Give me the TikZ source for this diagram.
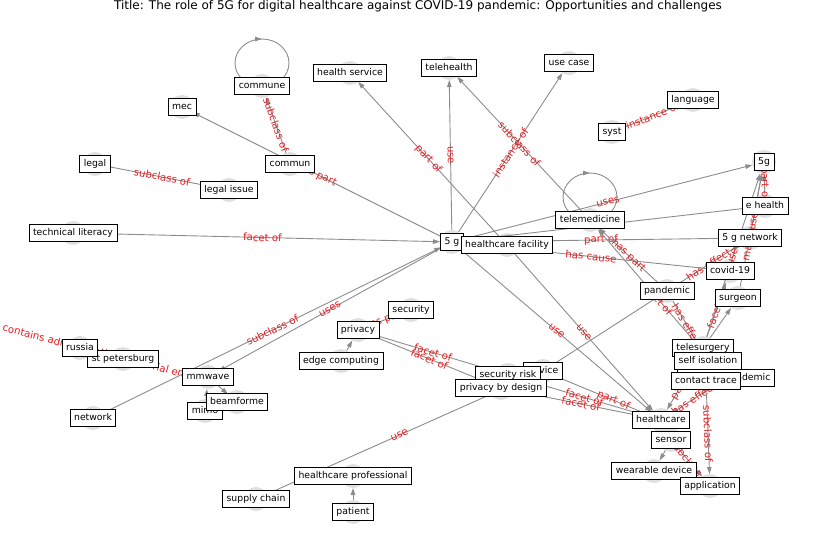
\documentclass[tikz,border=0pt]{standalone}
\usepackage{fontspec}
\setmainfont{DejaVu Sans}
\usetikzlibrary{arrows.meta,decorations.markings}
\definecolor{relred}{RGB}{232,28,32}
\definecolor{linegray}{RGB}{140,140,140}
\tikzset{
  dot/.style={circle, fill=black!12, draw=none, minimum size=24pt, inner sep=0pt, outer sep=0pt},
  lbl/.style={draw=black, fill=white, line width=0.8pt, inner xsep=4pt, inner ysep=4pt,
    text height=7pt, text depth=2pt, font=\fontsize{9.3}{10}\selectfont},
  plain/.style={draw=linegray, line width=0.9pt},
  edge/.style={plain, -{Triangle[length=7pt,width=4.5pt]}},
  rel/.style={sloped, text=relred, inner sep=0pt, font=\fontsize{10.2}{11}\selectfont},
  selfloop/.style={plain, postaction={decorate}, decoration={markings,
    mark=at position 0.25 with {\arrowreversed[linegray]{Triangle[length=7pt,width=4.5pt]}}}}
}
% id / x / y / text
\def\nodelist{commune/262/86/commune, mec/182/107/mec, healthsvc/350/73/health service,
  telehealth/449/68/telehealth, usecase/569/63/use case, language/693/100/language,
  syst/612/132/syst, legal/95/164/legal, legalissue/229/190/legal issue,
  commun/290/164/commun, g5/764/162/5g, ehealth/765/206/e health,
  telemed/590/220/telemedicine, techlit/73/233/technical literacy, fiveg/452/242/5 g,
  hcfac/507/245/healthcare facility, gnet/750/238/5 g network, covid/730/271/covid-19,
  pandemic/667/291/pandemic, surgeon/738/298/surgeon, security/411/310/security,
  privacy/358/330/privacy, stpete/123/359/st petersburg, russia/80/348/russia,
  edgecomp/341/361/edge computing, telesurg/703/348/telesurgery,
  selfiso/708/361/self isolation, covpan/726/378/covid-19 pandemic,
  contact/706/381/contact trace, mmwave/208/377/mmwave, device/543/371/device,
  secrisk/508/375/security risk, pbd/501/388/privacy by design, mimo/205/411/mimo,
  beam/237/402/beamforme, network/93/418/network, healthcare/661/420/healthcare,
  sensor/671/440/sensor, wearable/654/471/wearable device, application/710/486/application,
  hcpro/353/476/healthcare professional, supply/256/499/supply chain, patient/353/512/patient}

\begin{document}
\begin{tikzpicture}[x=1pt, y=-1pt]
  \useasboundingbox (0,0) rectangle (837,559);

  \node[font=\fontsize{12}{14}\selectfont] (title) at (418,6)
    {Title: The role of 5G for digital healthcare against COVID-19 pandemic: Opportunities and challenges};

  \foreach \n/\x/\y/\t in \nodelist
    \node[dot] (\n) at (\x,\y) {};

  \draw[selfloop] ([yshift=23pt]commune.center) circle[x radius=27pt, y radius=24pt];
  \draw[selfloop] ([yshift=23pt]telemed.center) circle[x radius=27pt, y radius=24pt];

  \draw[edge] (commun) -- node[rel] {subclass of} (commune);
  \draw[edge] (fiveg) -- node[rel] {has part} (mec);
  \draw[edge] (legal) -- node[rel] {subclass of} (legalissue);
  \draw[edge] (hcfac) -- node[rel] {part of} (healthsvc);
  \draw[edge] (fiveg) -- node[rel] {use} (telehealth);
  \draw[edge] (fiveg) -- node[rel] {instance of} (usecase);
  \draw[edge] (telemed) -- node[rel] {subclass of} (telehealth);
  \draw[edge] (syst) -- node[rel] {instance of} (language);
  \draw[edge] (fiveg) -- node[rel] {uses} (g5);
  \draw[edge] (fiveg) -- (ehealth);
  \draw[edge] (techlit) -- node[rel] {facet of} (fiveg);
  \draw[edge] (fiveg) -- node[rel] {part of} (gnet);
  \draw[edge] (fiveg) -- node[rel] {has cause} (covid);
  \draw[edge] (pandemic) -- node[rel] {has part} (telemed);
  \draw[edge] (covpan) -- node[rel] {facet of} (telemed);
  \draw[edge] (pandemic) -- node[rel] {has effect} (selfiso);
  \draw[edge] (pandemic) -- node[rel] {has effect} (gnet);
  \draw[edge] (telesurg) -- node[rel] {facet of} (covid);
  \draw[edge] (telesurg) -- (surgeon);
  \draw[edge] (ehealth) -- node[rel] {part of} (g5);
  \draw[edge] (gnet) -- (g5);
  \draw[edge] (telesurg) -- node[rel] {uses} (g5);
  \draw[edge] (surgeon) -- node[rel] {make use of} (g5);
  \draw[edge] (telesurg) -- node[rel] {part of} (healthcare);
  \draw[edge] (covpan) -- node[rel] {has effect} (healthcare);
  \draw[edge] (contact) -- node[rel] {subclass of} (application);
  \draw[edge] (sensor) -- node[rel] {subclass of} (application);
  \draw[edge] (sensor) -- (wearable);
  \draw[edge] (fiveg) -- node[rel] {use} (healthcare);
  \draw[edge] (hcfac) -- node[rel] {use} (healthcare);
  \draw[edge] (secrisk) -- node[rel] {facet of} (healthcare);
  \draw[edge] (pbd) -- node[rel] {facet of} (healthcare);
  \draw[edge] (device) -- node[rel, pos=0.62] {part of} (healthcare);
  \draw[edge] (supply) -- node[rel] {use} (device);
  \draw[plain] (device) -- (pandemic);
  \draw[edge] (network) -- node[rel] {subclass of} (fiveg);
  \draw[edge] (fiveg) -- node[rel] {uses} (mmwave);
  \draw[edge] (russia) -- node[rel] {contains administrative territorial entity} (stpete);
  \draw[edge] (mmwave) -- (beam);
  \draw[edge] (mimo) -- (mmwave);
  \draw[edge] (privacy) -- node[rel] {has part} (security);
  \draw[edge] (edgecomp) -- (privacy);
  \draw[edge] (privacy) -- node[rel] {facet of} (secrisk);
  \draw[edge] (privacy) -- node[rel] {facet of} (pbd);
  \draw[edge] (patient) -- (hcpro);

  \foreach \n/\x/\y/\t in \nodelist
    \node[lbl] (\n-t) at (\n) {\t};
\end{tikzpicture}
\end{document}
